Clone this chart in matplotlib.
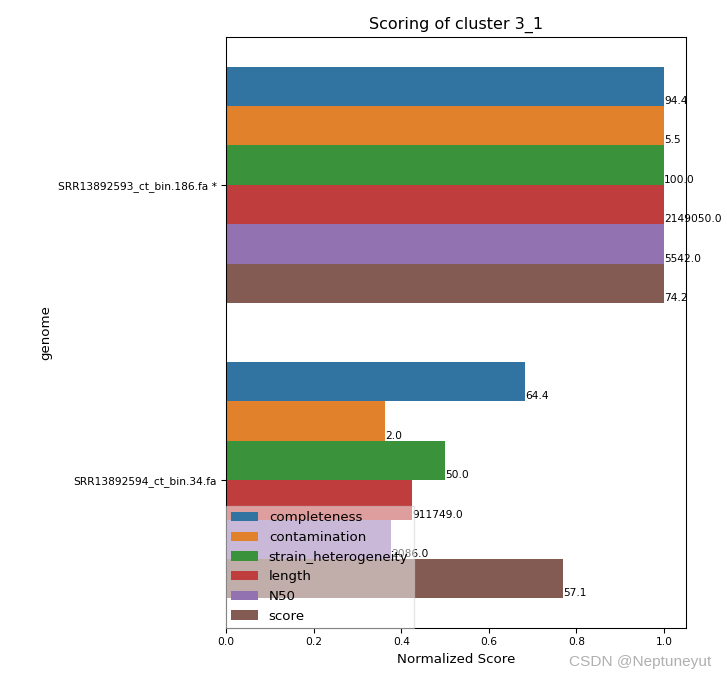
import matplotlib
matplotlib.use("Agg")
import matplotlib.pyplot as plt
import numpy as np

genomes = ["SRR13892593_ct_bin.186.fa *", "SRR13892594_ct_bin.34.fa"]
metrics = ["completeness", "contamination", "strain_heterogeneity", "length", "N50", "score"]
raw_values = {
    "completeness": [94.4, 64.4],
    "contamination": [5.5, 2.0],
    "strain_heterogeneity": [100.0, 50.0],
    "length": [2149050.0, 911749.0],
    "N50": [5542.0, 2086.0],
    "score": [74.2, 57.1],
}
colors = ["#3274a1", "#e1812c", "#3a923a", "#c03d3e", "#9372b2", "#845b53"]

DPI = 96
fig = plt.figure(figsize=(727 / DPI, 681 / DPI), dpi=DPI)
ax = fig.add_axes([0.311, 0.0778, 0.6326, 0.8679])

n = len(metrics)
group_w = 0.8
h = group_w / n
ypos = np.arange(len(genomes))
for i, (m, c) in enumerate(zip(metrics, colors)):
    vals = np.array(raw_values[m])
    norm = vals / vals.max()
    centers = ypos - group_w / 2 + h * (i + 0.5)
    ax.barh(centers, norm, height=h, color=c, label=m, linewidth=0)
    for yc, v, raw in zip(centers, norm, vals):
        ax.text(v, yc + h / 2, f"{raw:.1f}", fontsize=8, va="bottom")

ax.set_yticks(ypos)
ax.set_yticklabels(genomes, fontsize=8)
ax.tick_params(axis="x", labelsize=8)
ax.set_xlim(0, 1.05)
ax.set_ylim(1.5, -0.5)
ax.set_xlabel("Normalized Score", fontsize=10)
ax.set_ylabel("genome", fontsize=10)
ax.set_title("Scoring of cluster 3_1", fontsize=12)
leg = ax.legend(loc="lower left", borderaxespad=0, fontsize=10, fancybox=False,
                framealpha=0.5)
leg.set_zorder(10)

fig.text(0.979, 0.018, "CSDN @Neptuneyut", ha="right", va="bottom",
         fontsize=11.5, color="#b0b0b0", family="Liberation Sans")

fig.savefig("out.png", dpi=DPI)
